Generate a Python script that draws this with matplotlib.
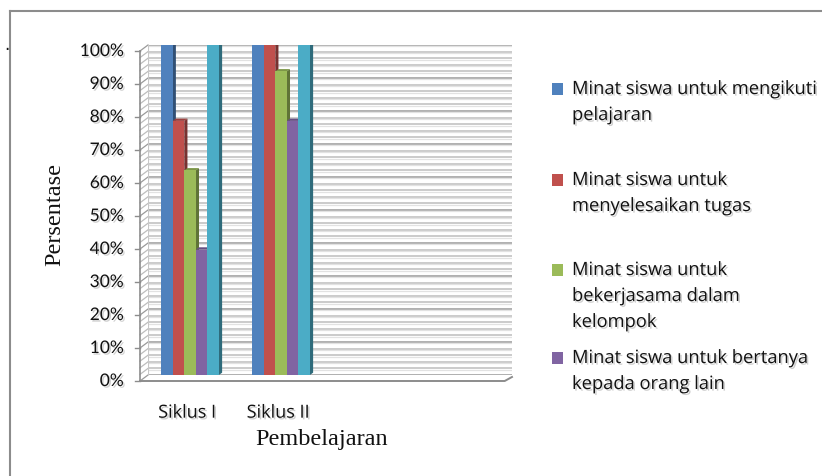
import numpy as np
import matplotlib
matplotlib.use("Agg")
import matplotlib.pyplot as plt
from matplotlib import transforms
from matplotlib.patches import Polygon, Rectangle
from matplotlib.lines import Line2D
import matplotlib.patheffects as pe
from matplotlib.colors import to_rgb

# ---- data ----
categories = ["Siklus I", "Siklus II"]
series_labels = [
    "Minat siswa untuk mengikuti\npelajaran",
    "Minat siswa untuk\nmenyelesaikan tugas",
    "Minat siswa untuk\nbekerjasama dalam\nkelompok",
    "Minat siswa untuk bertanya\nkepada orang lain",
]
minat_mengikuti = [100, 100]
minat_tugas = [77, 100]
minat_kerjasama = [62, 92]
minat_bertanya = [38, 77]
rata_rata = [100, 100]  # fifth series, not listed in the legend
yticks = [0, 10, 20, 30, 40, 50, 60, 70, 80, 90, 100]

series = [minat_mengikuti, minat_tugas, minat_kerjasama, minat_bertanya, rata_rata]
colors = ["#4F81BD", "#C0504D", "#9BBB59", "#8064A2", "#4BACC6"]

W, H = 822, 476
fig = plt.figure(figsize=(W / 100, H / 100), dpi=100)


def fx(px):
    return px / W


def fy(py):
    return 1 - py / H


# back wall of the plot
ax = fig.add_axes([fx(148), fy(375), (512 - 148) / W, (375 - 45) / H])
ax.set_xlim(-0.462, 3.538)
ax.set_ylim(0, 100)
ax.axis("off")

shadow = [pe.withSimplePatchShadow(offset=(1.2, -1.2), shadow_rgbFace="#777777", alpha=0.35)]

# grid lines on the back wall and the slanted side wall
blend = transforms.blended_transform_factory(ax.transAxes, ax.transData)
px_to_x = 8 / (512 - 148)      # side wall width in axes fraction
px_to_y = 6 / 3.3              # front plane offset in data units
for v in np.arange(0, 101, 2):
    major = v % 10 == 0
    col = "#9a9a9a" if major else "#bdbdbd"
    ax.add_line(Line2D([0, 1], [v, v], transform=blend, color=col, lw=1.1, zorder=1))
    ax.add_line(Line2D([0, 1], [v - 0.45, v - 0.45], transform=blend, color="#e2e2e2",
                       lw=0.9, zorder=1))
    ax.add_line(Line2D([-px_to_x, 0], [v - px_to_y, v], transform=blend, color=col,
                       lw=0.9, zorder=1, clip_on=False))
# left edge of side wall and top edges
ax.add_line(Line2D([-px_to_x, -px_to_x], [-px_to_y, 100 - px_to_y], transform=blend,
                   color="#8c8c8c", lw=1.2, clip_on=False))
ax.add_line(Line2D([0, 0], [0, 100], transform=blend, color="#c8c8c8", lw=0.8))
# floor front edge
ax.add_line(Line2D([-px_to_x, 1 - 0.02, 1], [-px_to_y, -px_to_y, -0.6], transform=blend,
                   color="#8c8c8c", lw=1.4, clip_on=False, zorder=2))

# y tick marks and labels on the front plane
tick_dx = 5 / (512 - 148)
for v in yticks:
    ax.add_line(Line2D([-px_to_x - tick_dx, -px_to_x], [v - px_to_y, v - px_to_y],
                       transform=blend, color="#8c8c8c", lw=1.0, clip_on=False))
    ax.text(-px_to_x - 0.045, v - px_to_y, f"{v}%", transform=blend, ha="right",
            va="center", fontsize=12.5, family="Lato", color="#111111",
            path_effects=shadow)

# bars with simple 3D side and top faces
n = len(series)
w = 0.127
depth_x = 0.035
depth_y = 0.7
x = np.arange(len(categories))
for j in range(len(categories)):
    for i, vals in enumerate(series):
        h = vals[j]
        left = x[j] + (i - (n - 1) / 2) * w - w / 2
        right = left + w
        c = np.array(to_rgb(colors[i]))
        dark = c * 0.62
        mid = c * 0.8
        z = 3 + 2 * i
        ax.add_patch(Polygon([[right, 0], [right + depth_x, depth_y],
                              [right + depth_x, h + depth_y], [right, h]],
                             closed=True, facecolor=dark, edgecolor="none", zorder=z))
        ax.add_patch(Polygon([[left, h], [left + depth_x, h + depth_y],
                              [right + depth_x, h + depth_y], [right, h]],
                             closed=True, facecolor=mid, edgecolor="none", zorder=z))
        ax.bar(left, h, width=w, align="edge", color=colors[i], zorder=z + 1,
               linewidth=0)

# category labels
for j, cat in enumerate(categories):
    ax.text(x[j] - 0.035, -px_to_y - 9.6, cat, ha="center", va="center",
            fontsize=13, family="Open Sans", color="#111111", path_effects=shadow)

# axis titles
fig.text(fx(55), fy(215), "Persentase", rotation=90, ha="center", va="center",
         fontsize=17.5, family="Liberation Serif", color="#111111")
fig.text(fx(322), fy(440), "Pembelajaran", ha="center", va="center",
         fontsize=17.5, family="Liberation Serif", color="#111111")

# legend: one swatch per series, wrapped text drawn line by line
legend_first_line = [89, 180, 270, 358]
line_step = 26
for lab, col, y0 in zip(series_labels, colors, legend_first_line):
    fig.patches.append(Rectangle((fx(552), fy(y0 + 6)), 11 / W, 12 / H,
                                 transform=fig.transFigure, facecolor=col,
                                 edgecolor="none"))
    for k, line in enumerate(lab.split("\n")):
        fig.text(fx(572), fy(y0 + k * line_step), line, ha="left", va="center",
                 fontsize=13.2, family="Open Sans", color="#111111",
                 path_effects=shadow)

# outer frame and marker dot
fig.add_artist(Line2D([fx(10), 1], [fy(11), fy(11)], color="#8c8c8c", lw=1.5))
fig.add_artist(Line2D([fx(10), fx(10)], [fy(11), 0], color="#8c8c8c", lw=1.5))
fig.text(fx(7), fy(50), "·", ha="center", va="center", fontsize=12, color="#111111")

fig.savefig("out.png", dpi=100, facecolor="white")
